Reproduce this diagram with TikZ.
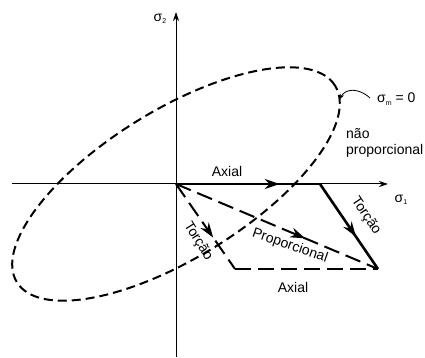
\documentclass[tikz,border=0pt]{standalone}
\usepackage{fontspec}
\setmainfont{Liberation Sans}
\usetikzlibrary{arrows.meta,decorations.markings}
\newcommand{\sg}[1]{σ\raisebox{-2.5pt}{\fontsize{7}{7}\selectfont #1}}
\tikzset{
  lbl/.style={font=\fontsize{14}{16}\selectfont, inner sep=0pt},
  axisline/.style={line width=1pt, -{Stealth[length=9pt,width=6pt]}},
  thickpath/.style={line width=2.6pt},
  longdash/.style={line width=2pt, dash pattern=on 16pt off 7pt},
  shortdash/.style={line width=2pt, dash pattern=on 9pt off 5pt},
  midarrow/.style={postaction={decorate, decoration={markings,
     mark=at position #1 with {\arrow{Stealth[length=15pt,width=10pt]}}}}}
}
\begin{document}
\begin{tikzpicture}[x=1pt,y=1pt]
\useasboundingbox (0,0) rectangle (425,358);
\coordinate (O) at (176,174);
\coordinate (A) at (320,174);
\coordinate (B) at (378,89);
\coordinate (C) at (235,89);
\coordinate (xl) at (12,174);
\coordinate (xr) at (388,174);
\coordinate (yb) at (176,1);
\coordinate (yt) at (176,346);
\coordinate (ep) at (340,259);
% axes
\draw[axisline] (xl) -- (xr);
\draw[axisline] (yb) -- (yt);
% ellipse
\draw[shortdash] (O) ellipse[x radius=187, y radius=74, rotate=31.7];
% paths
\draw[thickpath, midarrow=0.72] (O) -- (A);
\draw[thickpath, line join=miter, midarrow=0.62] (A) -- (B);
\draw[longdash, midarrow=0.64] (O) -- (B);
\draw[longdash, midarrow=0.63] (O) -- (C);
\draw[longdash] (C) -- (B);
% labels
\node[lbl] (s2) at (160,339) {\sg{2}};
\node[lbl] (s1) at (401,158) {\sg{1}};
\node[lbl] (ax1) at (227,187) {Axial};
\node[lbl] (ax2) at (293,71) {Axial};
\node[lbl, rotate=-56] (t1) at (366,142) {Torção};
\node[lbl, rotate=-58] (t2) at (198,117) {Torção};
\node[lbl, rotate=-19] (pr) at (290,112) {Proporcional};
\node[lbl, anchor=west] (sm) at (377,259) {\sg{m} = 0};
\node[lbl, anchor=west, align=left] (np) at (346,215) {não\\proporcional};
\draw[line width=0.8pt, -{Stealth[length=5pt,width=4pt]}] (sm.west) ++(-7,1) .. controls (358,271) and (345,269) .. (ep);
\end{tikzpicture}
\end{document}
